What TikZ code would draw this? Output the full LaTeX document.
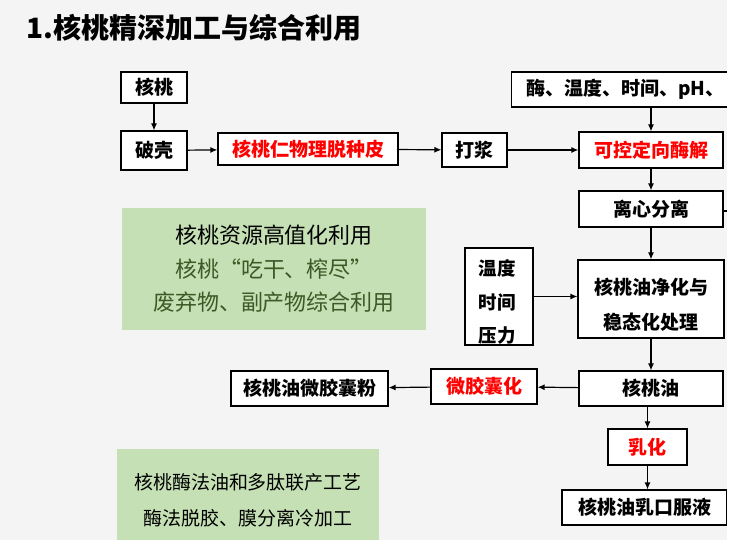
\documentclass[tikz,border=0pt]{standalone}
\usepackage{fontspec}
\setmainfont{Noto Sans CJK SC}
\usetikzlibrary{arrows.meta}
\definecolor{bg}{HTML}{F4F4F4}
\definecolor{gfill}{HTML}{C5E0B4}
\definecolor{gtext}{HTML}{3B5A26}
\definecolor{hl}{HTML}{FF0000}
\tikzset{
  box/.style={draw=black, line width=1.2pt, fill=white, inner sep=0pt, align=center,
    font=\bfseries\fontsize{19}{22}\selectfont},
  redtxt/.style={text=hl},
  gbox/.style={fill=gfill, inner sep=0pt, align=center},
  arr/.style={-{Latex[length=7pt,width=6pt]}, line width=1.2pt},
  ln/.style={line width=1.2pt}
}
\begin{document}
\begin{tikzpicture}[x=1pt,y=-1pt]
\clip (0,0) rectangle (732,540);
\fill[bg] (0,0) rectangle (732,540);
% title
\node[anchor=west, inner sep=0pt, font=\bfseries\fontsize{28}{32}\selectfont] (title) at (26,28) {1.核桃精深加工与综合利用};
% left flow
\node[box, minimum width=66, minimum height=31] (hetao) at (154,87.5) {核桃};
\node[box, minimum width=66, minimum height=39] (poke) at (154,150.5) {破壳};
\node[box, redtxt, minimum width=180, minimum height=32] (renpi) at (308,149) {核桃仁物理脱种皮};
\node[box, minimum width=65, minimum height=34] (dajiang) at (474.5,150) {打浆};
\node[box, minimum width=230, minimum height=35, anchor=west] (mei) at (511,89.5) {\hspace*{-2pt}酶、温度、时间、pH、};
\node[box, redtxt, minimum width=144, minimum height=36] (kekong) at (651,150) {可控定向酶解};
\node[box, minimum width=144, minimum height=36] (lixin) at (651,209) {离心分离};
\node[box, minimum width=68, minimum height=97] (wendu) at (499,296.5) {};
\node[inner sep=0pt, align=center, font=\bfseries\fontsize{18.5}{33.5}\selectfont] (wenduT) at (497,302) {温度\\时间\\压力};
\node[box, minimum width=146, minimum height=78] (jinghua) at (651,299) {};
\node[inner sep=0pt, align=center, font=\bfseries\fontsize{19}{35}\selectfont] (jinghuaT) at (651,304.5) {核桃油净化与\\稳态化处理};
\node[box, minimum width=144, minimum height=35] (you) at (651,388.5) {核桃油};
\node[box, redtxt, minimum width=106, minimum height=35] (weijiao) at (484,386.5) {微胶囊化};
\node[box, minimum width=157, minimum height=35] (fen) at (309.5,388.5) {核桃油微胶囊粉};
\node[box, redtxt, minimum width=79, minimum height=36] (ruhua) at (647.5,447) {乳化};
\node[box, minimum width=165, minimum height=35] (koufu) at (644.5,507.5) {核桃油乳口服液};
% green boxes
\node[gbox, minimum width=304, minimum height=122, font=\fontsize{22}{33.5}\selectfont] (g1) at (274,269)
  {核桃资源高值化利用\\\textcolor{gtext}{核桃“吃干、榨尽”}\\\textcolor{gtext}{废弃物、副产物综合利用}};
\node[gbox, minimum width=262, minimum height=102, font=\fontsize{19}{36}\selectfont] (g2) at (248,500)
  {核桃酶法油和多肽联产工艺\\酶法脱胶、膜分离冷加工};
% connectors
\draw[arr] (hetao) -- (poke);
\draw[arr] (poke) -- (renpi);
\draw[arr] (renpi) -- (dajiang);
\draw[arr] (dajiang) -- (kekong);
\draw[arr] (mei.south -| kekong.north) -- (kekong.north);
\draw[arr] (kekong) -- (lixin);
\draw[arr] (lixin) -- (jinghua);
\draw[arr] (wendu.east) -- (jinghua.west |- wendu.east);
\draw[arr] (jinghua) -- (you);
\draw[arr] (you) -- (weijiao);
\draw[arr] (weijiao) -- (fen);
\draw[arr] (you.south -| ruhua.north) -- (ruhua.north);
\draw[arr] (ruhua) -- (koufu.north -| ruhua.south);
\coordinate (rend) at (740,211);
\draw[ln] (lixin.east |- rend) -- (rend);
% right white strip
\fill[white] (726.5,0) rectangle (732,540);
\end{tikzpicture}
\end{document}
